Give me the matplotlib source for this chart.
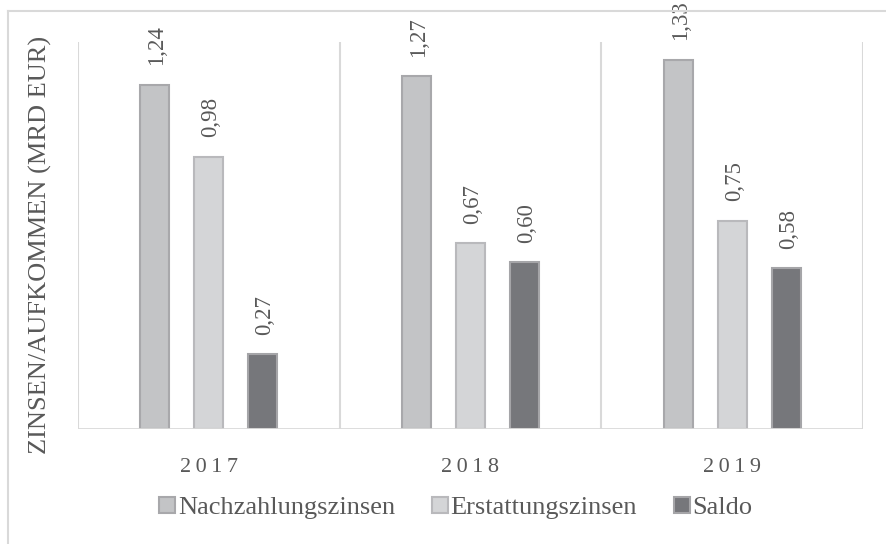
import matplotlib
matplotlib.use("Agg")
import matplotlib.pyplot as plt
from matplotlib.lines import Line2D
from matplotlib.patches import Patch
import numpy as np

years = ["2017", "2018", "2019"]
series_names = ["Nachzahlungszinsen", "Erstattungszinsen", "Saldo"]
nachzahlung = [1.24, 1.27, 1.33]
erstattung = [0.98, 0.67, 0.75]
saldo = [0.27, 0.60, 0.58]

fills = ["#C3C4C6", "#D4D5D7", "#76777B"]
edges = ["#A8A8AB", "#B9B9BC", "#A5A5A8"]
text_color = "#595959"
grid_color = "#D9D9D9"

plt.rcParams["font.family"] = ["Liberation Serif", "DejaVu Serif"]

W, H = 886, 544
fig = plt.figure(figsize=(W / 100, H / 100), dpi=100)

# outer chart border (cropped at right and bottom)
fig.add_artist(Line2D([8 / W, 1.0], [1 - 11 / H, 1 - 11 / H], color=grid_color, lw=1.5, transform=fig.transFigure))
fig.add_artist(Line2D([8 / W, 8 / W], [1 - 11 / H, 0.0], color=grid_color, lw=1.5, transform=fig.transFigure))

left, right, top, bottom = 78, 863, 42, 429
ax = fig.add_axes([left / W, 1 - bottom / H, (right - left) / W, (bottom - top) / H])

x = np.arange(len(years))
width = 0.111
spacing = 0.206
all_series = [nachzahlung, erstattung, saldo]
for i, vals in enumerate(all_series):
    pos = x + (i - 1) * spacing
    bars = ax.bar(pos, vals, width=width, color=fills[i], edgecolor=edges[i], linewidth=1.5,
                  label=series_names[i], zorder=3)
    for b, v in zip(bars, vals):
        ax.annotate(f"{v:.2f}".replace(".", ","),
                    (b.get_x() + b.get_width() / 2, b.get_height()),
                    xytext=(1.5, 14), textcoords="offset points",
                    rotation=90, ha="center", va="bottom",
                    fontsize=16.5, color=text_color)

ax.set_xlim(-0.5, len(years) - 0.5)
ax.set_ylim(0, 1.394)

for xv in np.arange(-0.5, len(years), 1.0):
    ax.axvline(xv, color=grid_color, lw=1.5, zorder=1)
ax.axhline(0, color=grid_color, lw=2, zorder=4)

for s in ax.spines.values():
    s.set_visible(False)
ax.set_yticks([])
ax.set_xticks(x)
ax.set_xticklabels(["\u2009".join(list(y)) for y in years], fontsize=16, color=text_color)
ax.tick_params(axis="x", length=0, pad=21)

fig.text(40 / W, 1 - 245 / H, "ZINSEN/AUFKOMMEN (MRD EUR)", rotation=90,
         ha="center", va="center", fontsize=19, color=text_color)

handles = [Patch(facecolor=fills[i], edgecolor=edges[i], linewidth=1.5) for i in range(3)]
fig.legend(handles, series_names, loc="center", bbox_to_anchor=(456 / W, 1 - 508 / H),
           ncol=3, frameon=False, fontsize=19, labelcolor=text_color,
           handlelength=0.6, handleheight=0.6, handletextpad=0.1, columnspacing=1.4)

fig.savefig("out.png", dpi=100)
